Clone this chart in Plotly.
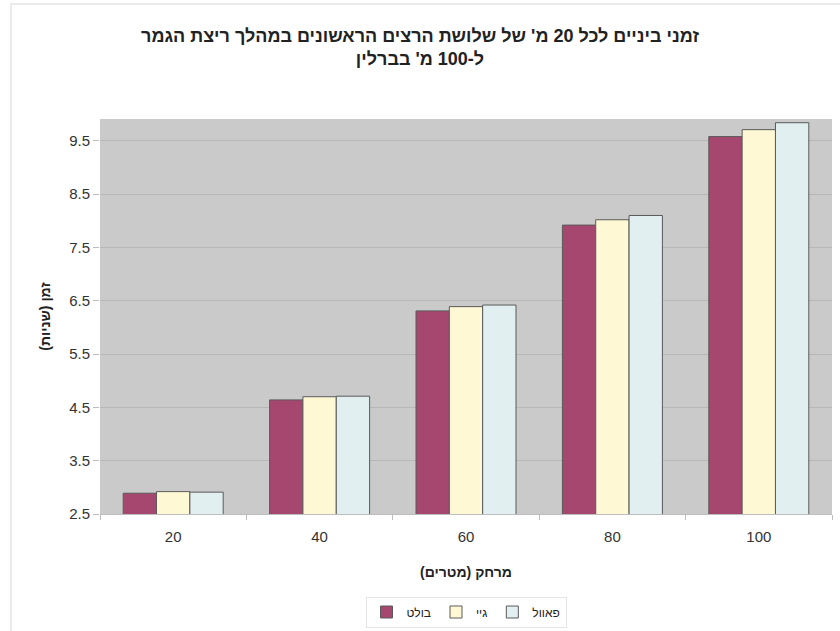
import plotly.graph_objects as go

categories = ["20", "40", "60", "80", "100"]
bolt = [2.89, 4.64, 6.31, 7.92, 9.58]
gay = [2.92, 4.70, 6.39, 8.02, 9.71]
powell = [2.91, 4.71, 6.42, 8.10, 9.84]
series_names = ["בולט", "גיי", "פאוול"]
y_ticks = [2.5, 3.5, 4.5, 5.5, 6.5, 7.5, 8.5, 9.5]

colors = ["#A5476F", "#FFF8D4", "#E2EFF1"]
font = "Liberation Sans, Arial, sans-serif"

fig = go.Figure()
for name, vals, c in zip(series_names, [bolt, gay, powell], colors):
    fig.add_trace(go.Bar(
        x=categories, y=vals, name=name,
        marker=dict(color=c, line=dict(color="#5a5a5a", width=1)),
    ))

fig.update_layout(
    width=840, height=631,
    margin=dict(l=100, r=8, t=119, b=117, autoexpand=False),
    paper_bgcolor="white",
    plot_bgcolor="#CACACA",
    barmode="group",
    bargap=0.317,
    bargroupgap=0,
    font=dict(family=font, size=14, color="#333333"),
    title=dict(
        text="<b>זמני ביניים לכל 20 מ' של שלושת הרצים הראשונים במהלך ריצת הגמר</b><br><b>ל-100 מ' בברלין</b>",
        x=0.5, xref="container", xanchor="center",
        y=1 - 42 / 631, yref="container", yanchor="middle",
        font=dict(family=font, size=18, color="#222222"),
    ),
    showlegend=True,
    legend=dict(
        orientation="h",
        x=(466 - 100) / 732, xref="paper", xanchor="center",
        y=(514 - 612) / 395, yanchor="middle",
        bordercolor="#E4E4E4", borderwidth=1,
        font=dict(family=font, size=12, color="#222222"),
        itemwidth=30, tracegroupgap=0,
        traceorder="normal",
    ),
    xaxis=dict(
        type="category",
        automargin=False,
        title=dict(text="<b>מרחק (מטרים)</b>", standoff=23,
                   font=dict(family=font, size=14, color="#222222")),
        showgrid=False,
        ticks="outside", tickson="boundaries", ticklen=5, tickcolor="#BDBDBD",
        ticklabelstandoff=9,
        showline=True, linecolor="#BDBDBD", linewidth=1,
        tickfont=dict(size=15, color="#333333"),
    ),
    yaxis=dict(
        automargin=False,
        range=[2.5, 9.91],
        tickvals=y_ticks,
        ticktext=[f"{v:.1f}" for v in y_ticks],
        showgrid=True, gridcolor="#B7B7B7", gridwidth=1,
        zeroline=False,
        ticks="outside", ticklen=6, tickcolor="#BDBDBD",
        showline=False,
        tickfont=dict(size=15, color="#333333"),
        title=dict(text="<b>זמן (שניות)</b>", standoff=15,
                   font=dict(family=font, size=14, color="#222222")),
    ),
)

# Outer chart border (faint)
fig.add_shape(type="rect", xref="paper", yref="paper",
              x0=(11 - 100) / 732, x1=(845 - 100) / 732,
              y0=(514 - 640) / 395, y1=(514 - 4) / 395,
              line=dict(color="#EBEBEB", width=2), fillcolor="rgba(0,0,0,0)",
              layer="below")

fig.write_html("out.html")
